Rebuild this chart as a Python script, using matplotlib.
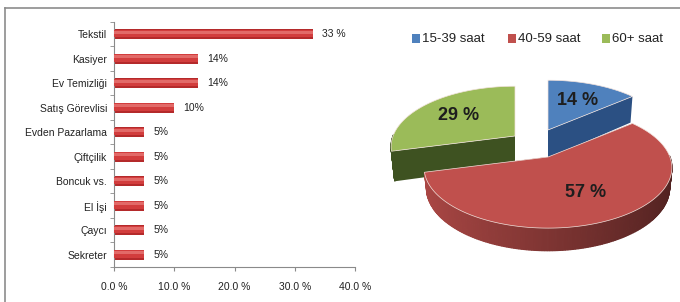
import matplotlib
matplotlib.use('Agg')
import numpy as np
import matplotlib.pyplot as plt
from matplotlib.patches import Polygon, Rectangle
from matplotlib.lines import Line2D
from matplotlib.colors import to_rgb

plt.rcParams['font.family'] = ['Liberation Sans', 'DejaVu Sans']

# left chart: jobs
jobs = ['Tekstil', 'Kasiyer', 'Ev Temizliği', 'Satış Görevlisi', 'Evden Pazarlama',
        'Çiftçilik', 'Boncuk vs.', 'El İşi', 'Çaycı', 'Sekreter']
job_pct = [33, 14, 14, 10, 5, 5, 5, 5, 5, 5]
job_labels = ['33 %', '14%', '14%', '10%', '5%', '5%', '5%', '5%', '5%', '5%']
x_ticks = [0, 10, 20, 30, 40]
x_ticklabels = ['0.0 %', '10.0 %', '20.0 %', '30.0 %', '40.0 %']

# right chart: weekly working hours
hour_groups = ['15-39 saat', '40-59 saat', '60+ saat']
hour_pct = [14, 57, 29]
hour_labels = ['14 %', '57 %', '29 %']
top_colors = ['#4f81bd', '#c0504d', '#9bbb59']
side_colors = ['#2b5083', '#b04542', '#3e5221']

fig = plt.figure(figsize=(6.8, 3.02), dpi=100)

# outer frame (top and left only)
fig.add_artist(Line2D([5/680, 5/680], [0, 1 - 8/302], color='#8c8c8c', lw=1.2))
fig.add_artist(Line2D([5/680, 1], [1 - 8/302, 1 - 8/302], color='#8c8c8c', lw=1.2))

# ---- bar chart ----
ax = fig.add_axes([114/680, 1 - 267/302, (355 - 114)/680, (267 - 22)/302])
y = np.arange(len(jobs))
# cylinder look: dark base, lighter middle, light top band (y axis is inverted)
ax.barh(y, job_pct, height=0.42, color='#b42a2b', zorder=2)
ax.barh(y - 0.03, job_pct, height=0.30, color='#d23d3d', zorder=3)
ax.barh(y - 0.08, job_pct, height=0.12, color='#e26a68', zorder=4)
for yi, v, lab in zip(y, job_pct, job_labels):
    ax.annotate(lab, (v, yi), xytext=(6.5, 0), textcoords='offset points',
                va='center', ha='left', fontsize=7.5, color='#222222')
ax.set_xlim(0, 40)
ax.set_ylim(len(jobs) - 0.5, -0.5)
ax.set_yticks(y)
ax.set_yticklabels(jobs, fontsize=7.5, color='#222222')
ax.set_yticks(np.arange(len(jobs) + 1) - 0.5, minor=True)
ax.tick_params(axis='y', which='major', length=0, pad=5)
ax.tick_params(axis='y', which='minor', length=3, color='#8a8a8a', direction='out')
ax.set_xticks(x_ticks)
ax.set_xticklabels(x_ticklabels, fontsize=7.5, color='#222222')
ax.tick_params(axis='x', length=3, color='#8a8a8a', pad=7.5)
for s in ['top', 'right']:
    ax.spines[s].set_visible(False)
for s in ['left', 'bottom']:
    ax.spines[s].set_color('#8a8a8a')
ax.patch.set_alpha(0)

# ---- 3D pie (perspective projection into pixel coords) ----
pa = fig.add_axes([0, 0, 1, 1], zorder=5)
pa.set_xlim(0, 680)
pa.set_ylim(302, 0)
pa.axis('off')
pa.patch.set_alpha(0)

cx, cy = 548, 157
elev = np.radians(28.7)
dist, focal = 4.97, 606
thick = [0.27, 0.19, 0.28]
shifts = [(0, -27), (0, 0), (-33, -21)]


def proj(r, th, z, off):
    X = r * np.cos(th)
    Y = r * np.sin(th)
    yc = Y * np.sin(elev) + z * np.cos(elev)
    d = dist + Y * np.cos(elev) - z * np.sin(elev)
    return cx + off[0] + focal * X / d, cy + off[1] - focal * yc / d


def shade(c, f):
    return tuple(min(1, v * f) for v in to_rgb(c))


fracs = np.array(hour_pct) / sum(hour_pct)
ends = np.radians(90) - 2 * np.pi * np.cumsum(fracs)
starts = np.concatenate([[np.radians(90)], ends[:-1]])
order = [2, 0, 1]  # back slices first
for i in order:
    a0, a1 = ends[i], starts[i]
    off = shifts[i]
    h = thick[i]
    th = np.linspace(a0, a1, 200)
    # radial faces
    for a in (a0, a1):
        p = [proj(0, a, 0, off), proj(1, a, 0, off), proj(1, a, -h, off), proj(0, a, -h, off)]
        pa.add_patch(Polygon(p, closed=True, fc=side_colors[i] if i != 1 else shade(top_colors[1], 0.6),
                             ec='none', zorder=1))
    # outer rim, front part
    for t0, t1 in zip(th[:-1], th[1:]):
        if np.sin((t0 + t1) / 2) < 0.02:
            p = [proj(1, t0, 0, off), proj(1, t1, 0, off), proj(1, t1, -h, off), proj(1, t0, -h, off)]
            if i == 1:
                col = shade(top_colors[1], 0.66 - 0.24 * np.cos((t0 + t1) / 2))
            else:
                col = side_colors[i]
            pa.add_patch(Polygon(p, closed=True, fc=col, ec=col, lw=0.9, zorder=2))
    # top face
    top = [proj(0, 0, 0, off)] + [proj(1, t, 0, off) for t in th]
    pa.add_patch(Polygon(top, closed=True, fc=top_colors[i], ec='#f2e2dc', lw=0.5, zorder=3))
    mid = (a0 + a1) / 2
    lx, ly = proj(0.62, mid, 0, off)
    pa.text(lx, ly, hour_labels[i], ha='center', va='center', fontsize=13,
            fontweight='bold', color='#1e1e1e', zorder=4)

# legend
leg_x = [412, 508, 602]
for xs, name, c in zip(leg_x, hour_groups, top_colors):
    pa.add_patch(Rectangle((xs, 34), 8, 9, fc=c, ec='none'))
    pa.text(xs + 10, 38.5, name, ha='left', va='center', fontsize=9.5, color='#222222')

fig.savefig('out.png', dpi=100)
